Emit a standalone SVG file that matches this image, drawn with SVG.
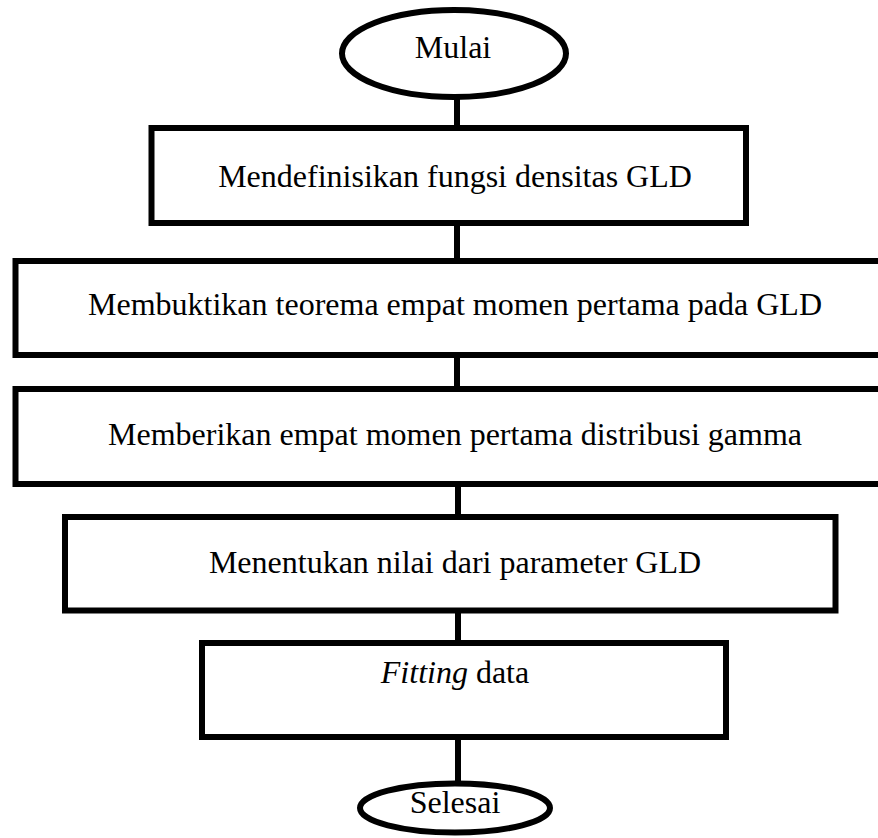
<svg xmlns="http://www.w3.org/2000/svg" width="878" height="838" viewBox="0 0 878 838">
<style>
.shape{fill:#fff;stroke:#000;stroke-width:6}
.conn{stroke:#000;stroke-width:6;fill:none}
text{font-family:"Liberation Serif","Times New Roman",serif;font-size:32px;fill:#000;text-anchor:middle}
</style>
<rect width="878" height="838" fill="#fff"/>
<g id="connectors">
<line class="conn" x1="457" y1="97" x2="457" y2="128"/>
<line class="conn" x1="457" y1="223" x2="457" y2="261"/>
<line class="conn" x1="457" y1="355" x2="457" y2="389"/>
<line class="conn" x1="458" y1="484" x2="458" y2="517"/>
<line class="conn" x1="458" y1="610" x2="458" y2="643"/>
<line class="conn" x1="458" y1="737" x2="458" y2="784"/>
</g>
<g id="mulai">
<ellipse class="shape" cx="454" cy="53.5" rx="112" ry="43.5"/>
<text x="453" y="58">Mulai</text>
</g>
<g id="step1">
<rect class="shape" x="151.5" y="128" width="594.5" height="95"/>
<text x="455" y="187">Mendefinisikan fungsi densitas GLD</text>
</g>
<g id="step2">
<rect class="shape" x="15.5" y="261" width="880" height="94"/>
<text x="455" y="315">Membuktikan teorema empat momen pertama pada GLD</text>
</g>
<g id="step3">
<rect class="shape" x="15.5" y="389" width="880" height="95"/>
<text x="455" y="445">Memberikan empat momen pertama distribusi gamma</text>
</g>
<g id="step4">
<rect class="shape" x="65" y="517" width="770.5" height="93.5"/>
<text x="455" y="573">Menentukan nilai dari parameter GLD</text>
</g>
<g id="step5">
<rect class="shape" x="202" y="643" width="524" height="94"/>
<text x="455" y="683"><tspan font-style="italic">Fitting</tspan> data</text>
</g>
<g id="selesai">
<ellipse class="shape" cx="455" cy="808" rx="95" ry="24.5"/>
<text x="455" y="813">Selesai</text>
</g>
</svg>
